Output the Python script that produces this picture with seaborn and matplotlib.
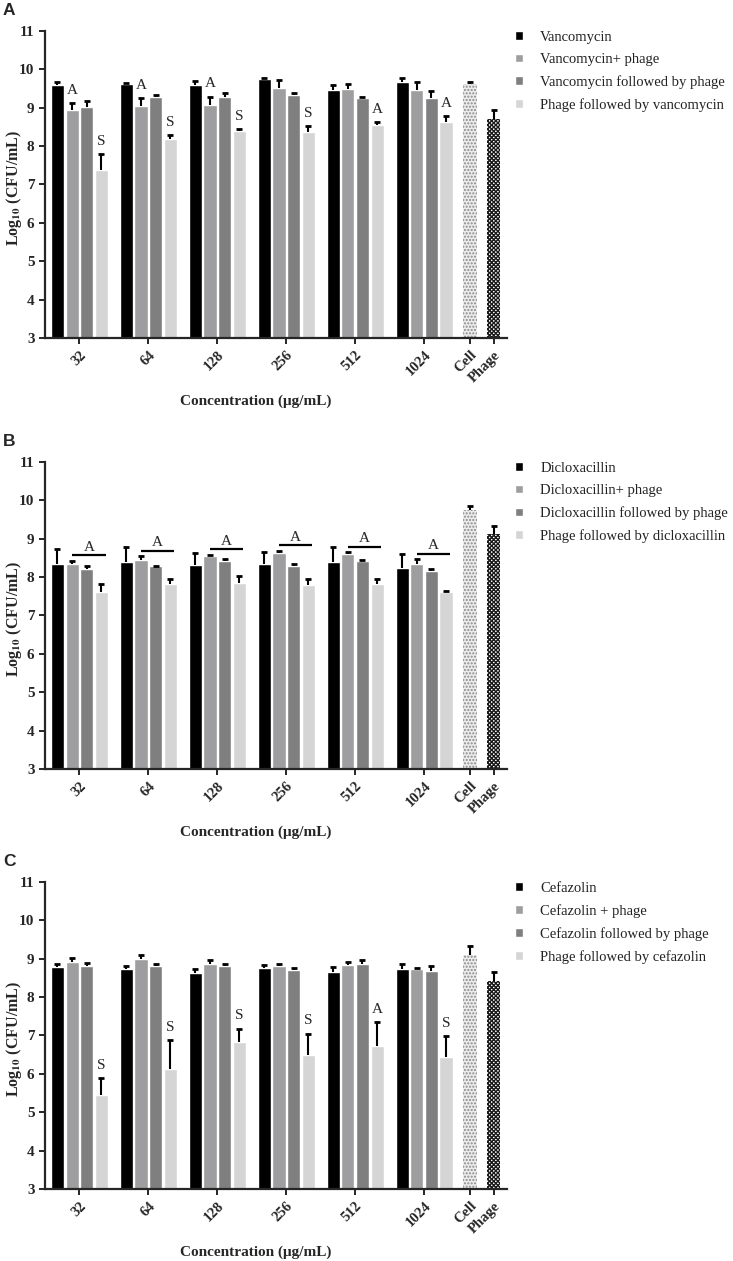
import matplotlib

matplotlib.use("Agg")
import matplotlib.pyplot as plt
import numpy as np
import pandas as pd
import seaborn as sns

# ---- data ----
concs = ["32", "64", "128", "256", "512", "1024"]
controls = ["Cell", "Phage"]
colors = ["#000000", "#9e9ea0", "#7f7f7f", "#d5d5d5"]

labels_a = ["Vancomycin", "Vancomycin+ phage",
            "Vancomycin followed by phage", "Phage followed by vancomycin"]
mean_a = [[9.58, 9.61, 9.58, 9.74, 9.46, 9.68],
          [8.94, 9.04, 9.06, 9.52, 9.48, 9.45],
          [9.03, 9.27, 9.28, 9.32, 9.24, 9.26],
          [7.37, 8.19, 8.40, 8.36, 8.54, 8.62]]
err_a = [[0.10, 0.03, 0.11, 0.03, 0.13, 0.09],
         [0.19, 0.20, 0.23, 0.21, 0.14, 0.21],
         [0.14, 0.05, 0.09, 0.07, 0.03, 0.18],
         [0.43, 0.09, 0.05, 0.15, 0.09, 0.16]]
ctrl_mean_a = [9.62, 8.71]
ctrl_err_a = [0.06, 0.22]
# (group, series, letter)
marks_a = [(0, 1, "A"), (1, 1, "A"), (2, 1, "A"),
           (0, 3, "S"), (1, 3, "S"), (2, 3, "S"), (3, 3, "S"),
           (4, 3, "A"), (5, 3, "A")]

labels_b = ["Dicloxacillin", "Dicloxacillin+ phage",
            "Dicloxacillin followed by phage", "Phage followed by dicloxacillin"]
mean_b = [[8.35, 8.38, 8.32, 8.35, 8.39, 8.23],
          [8.35, 8.45, 8.55, 8.62, 8.61, 8.35],
          [8.20, 8.28, 8.41, 8.28, 8.43, 8.15],
          [7.62, 7.83, 7.85, 7.80, 7.82, 7.60]]
err_b = [[0.37, 0.39, 0.30, 0.30, 0.38, 0.38],
         [0.08, 0.10, 0.03, 0.07, 0.04, 0.12],
         [0.08, 0.02, 0.06, 0.06, 0.02, 0.07],
         [0.21, 0.13, 0.18, 0.14, 0.14, 0.03]]
ctrl_mean_b = [9.75, 9.12]
ctrl_err_b = [0.10, 0.20]
brackets_b = [0, 1, 2, 3, 4, 5]

labels_c = ["Cefazolin", "Cefazolin + phage",
            "Cefazolin followed by phage", "Phage followed by cefazolin"]
mean_c = [[8.78, 8.72, 8.62, 8.75, 8.66, 8.72],
          [8.92, 8.98, 8.87, 8.80, 8.84, 8.74],
          [8.80, 8.80, 8.80, 8.70, 8.87, 8.69],
          [5.45, 6.12, 6.82, 6.50, 6.73, 6.45]]
err_c = [[0.07, 0.08, 0.11, 0.09, 0.12, 0.13],
         [0.10, 0.12, 0.10, 0.06, 0.08, 0.03],
         [0.08, 0.06, 0.05, 0.07, 0.09, 0.11],
         [0.45, 0.75, 0.36, 0.55, 0.62, 0.54]]
ctrl_mean_c = [9.10, 8.43]
ctrl_err_c = [0.22, 0.22]
marks_c = [(0, 3, "S"), (1, 3, "S"), (2, 3, "S"), (3, 3, "S"),
           (4, 3, "A"), (5, 3, "S")]

sns.set_style("ticks")
plt.rcParams["font.family"] = ["Liberation Serif", "DejaVu Serif"]
plt.rcParams["mathtext.fontset"] = "stix"
plt.rcParams["hatch.linewidth"] = 1.0

CTRL_X = [5.67, 6.01]


def upper_errorbars(ax, xs, means, errs):
    # only the upper half of the SD bar, like the original figure
    tops = np.asarray(means) + np.asarray(errs)
    ax.vlines(xs, means, tops, colors="black", lw=1.5, zorder=4)
    ax.plot(xs, tops, ls="none", marker="_", ms=5, mew=2.0, color="black", zorder=4)


def draw_panel(ax, letter, labels, means, errs, ctrl_means, ctrl_errs,
               marks=(), brackets=()):
    df = pd.DataFrame({
        "conc": concs * 4,
        "treatment": [lab for lab in labels for _ in concs],
        "value": np.ravel(means),
    })
    sns.barplot(data=df, x="conc", y="value", hue="treatment", order=concs,
                hue_order=labels, palette=colors, width=0.85, gap=0.1,
                errorbar=None, saturation=1, ax=ax, legend=True)

    centers = []
    for j, cont in enumerate(ax.containers[:4]):
        xs = [p.get_x() + p.get_width() / 2 for p in cont]
        centers.append(xs)
        upper_errorbars(ax, xs, means[j], errs[j])

    # untreated cells / phage alone
    ctrl = ax.bar(CTRL_X, ctrl_means, width=[0.2, 0.18], zorder=2)
    ctrl[0].set_facecolor("#ececec")
    ctrl[0].set_edgecolor("#8a8a8a")
    ctrl[0].set_hatch(".....")
    ctrl[1].set_facecolor("#ffffff")
    ctrl[1].set_edgecolor("#1a1a1a")
    ctrl[1].set_hatch("xxxxxxxx")
    for p in ctrl:
        p.set_linewidth(0)
    upper_errorbars(ax, CTRL_X, ctrl_means, ctrl_errs)

    for g, s, txt in marks:
        y = means[s][g] + errs[s][g] + 0.16
        ax.text(centers[s][g], y, txt, ha="center", va="bottom", fontsize=11)

    for g in brackets:
        top = max(means[s][g] + errs[s][g] for s in (1, 2, 3)) + 0.14
        x1 = centers[1][g]
        x2 = centers[3][g] + 0.06
        ax.plot([x1, x2], [top, top], color="black", lw=1.6, solid_capstyle="butt")
        ax.text((x1 + x2) / 2, top + 0.04, "A", ha="center", va="bottom", fontsize=11)

    ax.set_xlim(-0.5, 6.2)
    ax.set_ylim(3, 11)
    ax.set_yticks(range(3, 12))
    ax.set_xticks(list(range(len(concs))) + CTRL_X)
    ax.set_xticklabels(concs + controls)
    ax.tick_params(axis="both", direction="out", length=4, width=1.4, labelsize=10.5)
    for lbl in ax.get_xticklabels():
        lbl.set_rotation(45)
        lbl.set_ha("right")
        lbl.set_rotation_mode("anchor")
        lbl.set_fontweight("bold")
    for lbl in ax.get_yticklabels():
        lbl.set_fontweight("bold")
        lbl.set_fontsize(11)
    sns.despine(ax=ax)
    for sp in ("left", "bottom"):
        ax.spines[sp].set_linewidth(1.6)

    ax.set_xlabel("Concentration (μg/mL)", fontsize=11, fontweight="bold")
    ax.set_ylabel(r"Log$_{\mathbf{10}}$ (CFU/mL)", fontsize=11.5, fontweight="bold")
    ax.xaxis.set_label_coords(0.457, -0.185)
    ax.yaxis.set_label_coords(-0.045, 0.49)

    sns.move_legend(ax, "upper left", bbox_to_anchor=(1.017, 1.0), frameon=False,
                    title=None, fontsize=10.5, borderaxespad=0, borderpad=0,
                    handlelength=0.55, handleheight=0.55, handletextpad=1.2,
                    labelspacing=0.63)
    for t in ax.get_legend().get_texts():
        t.set_color("#222222")

    ax.figure.text(0.004, ax.get_position().y1 + 0.016, letter,
                   family="Liberation Sans", fontweight="bold", fontsize=12.5,
                   va="center", ha="left")


fig = plt.figure(figsize=(7.33, 12.61), dpi=100)
ax_a = fig.add_axes([0.0614, 0.732, 0.630, 0.2435])
ax_b = fig.add_axes([0.0614, 0.3902, 0.630, 0.2435])
ax_c = fig.add_axes([0.0614, 0.0571, 0.630, 0.2435])

draw_panel(ax_a, "A", labels_a, mean_a, err_a, ctrl_mean_a, ctrl_err_a, marks=marks_a)
draw_panel(ax_b, "B", labels_b, mean_b, err_b, ctrl_mean_b, ctrl_err_b, brackets=brackets_b)
draw_panel(ax_c, "C", labels_c, mean_c, err_c, ctrl_mean_c, ctrl_err_c, marks=marks_c)

fig.savefig("out.png", dpi=100, facecolor="white")
plt.close(fig)
